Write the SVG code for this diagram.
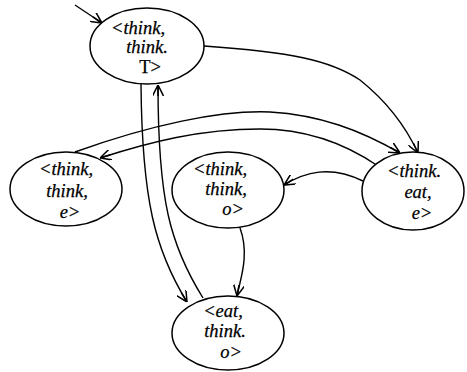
<svg xmlns="http://www.w3.org/2000/svg" width="467" height="372" viewBox="0 0 467 372">
<style>
  .node ellipse { fill: #fff; stroke: #000; stroke-width: 1.5; }
  .node text { font-family: "Liberation Serif", "Times New Roman", serif; font-style: italic; font-size: 18.5px; text-anchor: middle; fill: #000; stroke: #000; stroke-width: 0.25; }
  .node text.up { font-style: normal; }
  .edges path { fill: none; stroke: #000; stroke-width: 1.4; marker-end: url(#arr); }
</style>
<defs>
  <marker id="arr" viewBox="0 0 10 10" refX="10" refY="5" markerWidth="11" markerHeight="11" markerUnits="userSpaceOnUse" orient="auto">
    <path d="M0,0 L10,5 L0,10 M10,5 L0,5" fill="none" stroke="#000" stroke-width="1.4"/>
  </marker>
</defs>
<g class="edges" id="edges">
  <path d="M75,5 L102,23"/>
  <path d="M204,46 C290,52 330,60 360,80 C385,100 405,125 418,153"/>
  <path d="M75,152 C150,125 220,110 270,112 C320,115 360,130 400,153"/>
  <path d="M378,166 C340,140 300,129 260,129 C200,129 150,142 100,158"/>
  <path d="M363,181 C330,165 305,172 284,185"/>
  <path d="M240,228 C250,255 240,280 237,296"/>
  <path d="M141,84 C142,200 155,250 187,302"/>
  <path d="M203,298 C170,245 158,200 158,85"/>
</g>
<g class="node" id="n_tt_T">
  <ellipse cx="147" cy="46" rx="57" ry="38"/>
  <text x="138" y="34">&lt;think,</text>
  <text x="147" y="53">think.</text>
  <text class="up" x="150" y="73">T&gt;</text>
</g>
<g class="node" id="n_tt_e">
  <ellipse cx="66" cy="189" rx="56" ry="37"/>
  <text x="66" y="175">&lt;think,</text>
  <text x="67" y="197">think,</text>
  <text x="70" y="218">e&gt;</text>
</g>
<g class="node" id="n_tt_o">
  <ellipse cx="228" cy="190" rx="56" ry="38"/>
  <text x="220" y="175">&lt;think,</text>
  <text x="226" y="195">think,</text>
  <text x="233" y="215">o&gt;</text>
</g>
<g class="node" id="n_te_e">
  <ellipse cx="413" cy="191" rx="51" ry="39"/>
  <text x="414" y="177">&lt;think.</text>
  <text x="418" y="198">eat,</text>
  <text x="422" y="219">e&gt;</text>
</g>
<g class="node" id="n_et_o">
  <ellipse cx="228" cy="333" rx="56" ry="37"/>
  <text x="223" y="317">&lt;eat,</text>
  <text x="225" y="337">think.</text>
  <text x="231" y="358">o&gt;</text>
</g>
</svg>
